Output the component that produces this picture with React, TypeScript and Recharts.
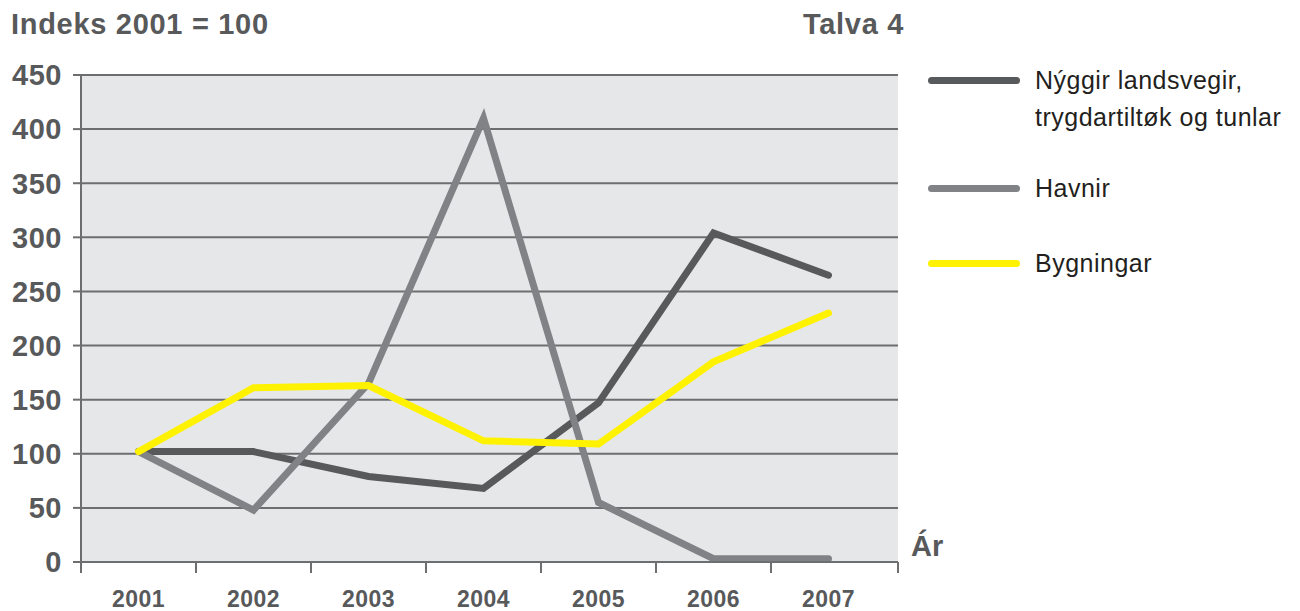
import React from "react";
import { LineChart, Line, XAxis, YAxis, CartesianGrid } from "recharts";

const years = ["2001", "2002", "2003", "2004", "2005", "2006", "2007"];
const landsvegir = [102, 102, 79, 68, 147, 304, 265];
const havnir = [102, 48, 165, 410, 55, 3, 3];
const bygningar = [102, 161, 163, 112, 109, 185, 230];
const yTicks = [0, 50, 100, 150, 200, 250, 300, 350, 400, 450];

const seriesInfo = [
  { key: "landsvegir", label: ["Nýggir landsvegir,", "trygdartiltøk og tunlar"], color: "#58595b" },
  { key: "havnir", label: ["Havnir"], color: "#808285" },
  { key: "bygningar", label: ["Bygningar"], color: "#fff200" },
];

const data = years.map((year, i) => ({
  year,
  landsvegir: landsvegir[i],
  havnir: havnir[i],
  bygningar: bygningar[i],
}));

const FONT = "'Liberation Sans', Arial, Helvetica, sans-serif";
const AXIS_GRAY = "#6d6e70";
const TEXT_GRAY = "#58595b";
const PAD_RIGHT = 12;

// x-akse: tal í miðjuni, streki við kantin á hvørjum bandi
const YearTick = (props: any) => {
  const { x, y, payload, index } = props;
  const half = payload && payload.offset ? payload.offset : 0;
  const top = y - 29;
  return (
    <g>
      <line x1={x - half} x2={x - half} y1={top} y2={top + 11} stroke={AXIS_GRAY} strokeWidth={2} />
      {index === years.length - 1 && (
        <line x1={x + half + PAD_RIGHT} x2={x + half + PAD_RIGHT} y1={top} y2={top + 11} stroke={AXIS_GRAY} strokeWidth={2} />
      )}
      <text
        x={x}
        y={y}
        dy="0.71em"
        textAnchor="middle"
        fill={TEXT_GRAY}
        fontSize={23}
        fontWeight="bold"
        letterSpacing={0.5}
        fontFamily={FONT}
      >
        {payload.value}
      </text>
    </g>
  );
};

export default function App() {
  return (
    <div style={{ position: "absolute", left: 0, top: 0, width: 1300, height: 611, background: "#fff", fontFamily: FONT }}>
      <div style={{ position: "absolute", left: 11, top: 8, fontSize: 29, fontWeight: "bold", letterSpacing: 0.7, color: TEXT_GRAY, whiteSpace: "nowrap" }}>
        Indeks 2001 = 100
      </div>
      <div style={{ position: "absolute", left: 803, top: 8, fontSize: 29, fontWeight: "bold", letterSpacing: 0.7, color: TEXT_GRAY, whiteSpace: "nowrap" }}>
        Talva 4
      </div>
      <div style={{ position: "absolute", left: 911, top: 530, fontSize: 29, fontWeight: "bold", color: TEXT_GRAY }}>
        Ár
      </div>

      <LineChart
        width={1300}
        height={611}
        data={data}
        margin={{ top: 75, right: 402, bottom: 0, left: 0 }}
      >
        <CartesianGrid vertical={false} stroke={AXIS_GRAY} strokeWidth={2} fill="#e6e7e8" />
        <XAxis
          dataKey="year"
          scale="band"
          padding={{ left: 0, right: PAD_RIGHT }}
          height={49}
          axisLine={{ stroke: AXIS_GRAY, strokeWidth: 2 }}
          tickLine={false}
          tickSize={0}
          tickMargin={29}
          interval={0}
          tick={<YearTick />}
        />
        <YAxis
          width={81}
          domain={[0, 450]}
          ticks={yTicks}
          interval={0}
          axisLine={{ stroke: AXIS_GRAY, strokeWidth: 2 }}
          tickLine={{ stroke: AXIS_GRAY, strokeWidth: 2 }}
          tickSize={8}
          tickMargin={11}
          tick={{ fill: TEXT_GRAY, fontSize: 29, fontWeight: "bold", letterSpacing: 0.5, fontFamily: FONT }}
        />
        <YAxis
          yAxisId="right"
          orientation="right"
          width={0}
          domain={[0, 450]}
          tick={false}
          tickLine={false}
          axisLine={{ stroke: AXIS_GRAY, strokeWidth: 2 }}
        />
        {seriesInfo.map((s) => (
          <Line
            key={s.key}
            dataKey={s.key}
            stroke={s.color}
            strokeWidth={7}
            strokeLinecap="round"
            strokeLinejoin="miter"
            dot={false}
            activeDot={false}
            isAnimationActive={false}
          />
        ))}
      </LineChart>

      {seriesInfo.map((s, i) => {
        const tops = [80, 188, 263];
        return (
          <div key={s.key} style={{ position: "absolute", left: 928, top: tops[i] - 18 }}>
            <div style={{ position: "absolute", left: 0, top: 15, width: 92, height: 7, borderRadius: 4, background: s.color }} />
            <div style={{ position: "absolute", left: 107, top: 0, fontSize: 25, lineHeight: "37px", letterSpacing: 0.5, color: "#231f20", whiteSpace: "nowrap" }}>
              {s.label.map((t) => (
                <div key={t}>{t}</div>
              ))}
            </div>
          </div>
        );
      })}
    </div>
  );
}
